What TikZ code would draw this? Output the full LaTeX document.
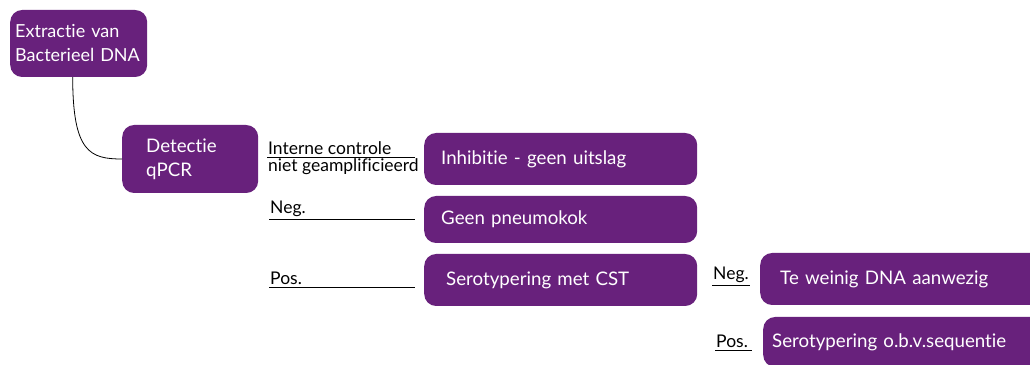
\documentclass[tikz,border=0pt]{standalone}
\usepackage{fontspec}
\setmainfont{Lato}[Ligatures={NoCommon,NoDiscretionary}]
\usepackage{xcolor}
\usetikzlibrary{positioning,calc}
\definecolor{rivmPurple}{RGB}{104,33,124}

\begin{document}
\begin{tikzpicture}[
            x=1pt, y=1pt,
            box/.style={rectangle, rounded corners=12pt, fill=rivmPurple, text=white, align=left, font=\fontsize{18.7}{24}\selectfont, anchor=west},
            lbl/.style={anchor=south west, inner xsep=1pt, inner ysep=2.5pt, font=\fontsize{17.5}{20}\selectfont},
            branch/.style={line width=0.8pt, black}
        ]
            \useasboundingbox (0,0) rectangle (1030,364);
            \clip (0,0) rectangle (1030,364);

            \node[box, inner xsep=5pt, text width=127pt, minimum height=67pt, font=\fontsize{18}{24}\selectfont] (extract) at (10,320.5) {Extractie van\\Bacterieel\ DNA};
            \node[box, inner xsep=24pt, text width=88pt, minimum height=68pt] (detect) at (122,205) {Detectie\\qPCR};

            \node[box, inner xsep=17pt, text width=239pt, minimum height=52pt] (inhib) at (424,205) {Inhibitie - geen uitslag};
            \node[box, inner xsep=17pt, text width=239pt, minimum height=47pt] (geen) at (424,144.5) {Geen pneumokok};
            \node[box, inner xsep=22pt, text width=229pt, minimum height=52pt] (cst) at (424,84) {Serotypering met CST};
            \node[box, inner xsep=20pt, text width=270pt, minimum height=52pt] (weinig) at (760,85) {Te weinig DNA aanwezig};
            \node[box, inner xsep=9pt, text width=290pt, minimum height=50pt] (seq) at (763,22) {Serotypering o.b.v.sequentie};

            % labels on the branches
            \node[lbl] (ctrl) at (267,207) {Interne controle};
            \node[lbl, anchor=north west, inner ysep=1.5pt] (ctrlb) at (267,207) {niet geamplificieerd};
            \node[lbl] (neg) at (269,145) {Neg.};
            \node[lbl] (pos) at (269,77) {Pos.};
            \node[lbl] (negb) at (712,79) {Neg.};
            \node[lbl] (posb) at (715,14) {Pos.};

            \draw[branch] ([xshift=-6pt]extract.south) .. controls +(0,-75) and +(-32,0) .. (detect.west);
            \draw[branch, shorten >=9pt] (ctrl.south west) -- (ctrl.south west -| inhib.west);
            \draw[branch, shorten >=9pt] (neg.south west) -- (neg.south west -| geen.west);
            \draw[branch, shorten >=9pt] (pos.south west) -- (pos.south west -| cst.west);
            \draw[branch, shorten >=10pt] (negb.south west) -- (negb.south west -| weinig.west);
            \draw[branch, shorten >=11pt] (posb.south west) -- (posb.south west -| seq.west);
        \end{tikzpicture}
\end{document}
